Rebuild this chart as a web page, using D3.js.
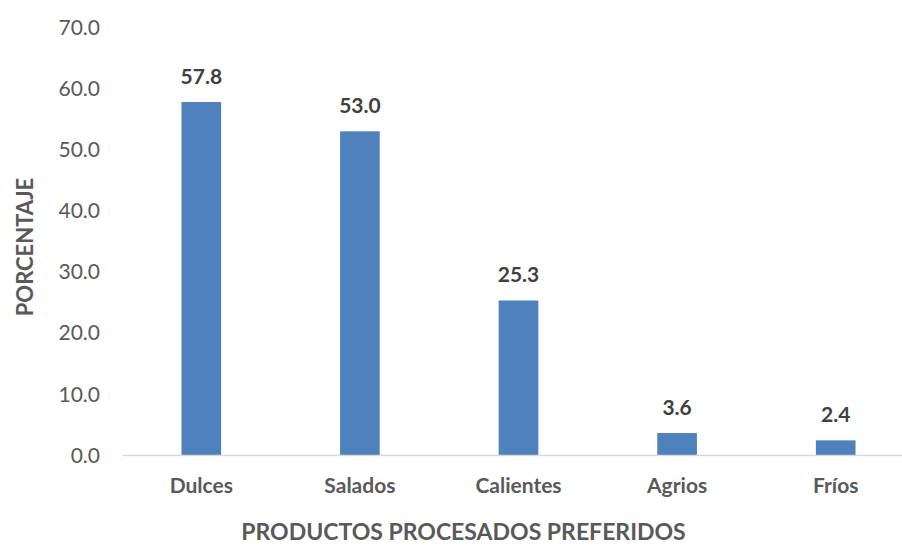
<!DOCTYPE html>
<html>
<head>
<meta charset="utf-8">
<script src="https://cdn.jsdelivr.net/npm/d3@7"></script>
<style>
  html, body { margin: 0; padding: 0; background: #fff; }
  svg { display: block; font-family: Lato, "Noto Sans", sans-serif; }
</style>
</head>
<body>
<svg id="chart" width="902" height="546"></svg>
<script>
const categories = ["Dulces", "Salados", "Calientes", "Agrios", "Fríos"];
const values = [57.8, 53.0, 25.3, 3.6, 2.4];
const yTicks = [0, 10, 20, 30, 40, 50, 60, 70];
const yTitle = "PORCENTAJE";
const xTitle = "PRODUCTOS PROCESADOS PREFERIDOS";

const svg = d3.select("#chart");

const x = d3.scaleBand()
  .domain(categories)
  .range([122, 915])
  .paddingInner(0.75)
  .paddingOuter(0.375);

const y = d3.scaleLinear().domain([0, 70]).range([455, 27.5]);

// y tick labels (no axis line, no gridlines)
const yAxis = d3.axisLeft(y).tickValues(yTicks).tickFormat(d3.format(".1f")).tickSize(0).tickPadding(0);
const gy = svg.append("g").attr("transform", "translate(100,0)").call(yAxis);
gy.select(".domain").remove();
gy.selectAll("text")
  .attr("fill", "#595959")
  .attr("font-size", 21)
  .attr("font-family", "Lato, 'Noto Sans', sans-serif")
  .attr("dy", "0.34em");

// bars
svg.append("g").selectAll("rect")
  .data(values)
  .join("rect")
  .attr("x", (d, i) => x(categories[i]))
  .attr("width", x.bandwidth())
  .attr("y", d => y(d))
  .attr("height", d => y(0) - y(d))
  .attr("fill", "#4F81BD");

// x axis line and category labels
const xAxis = d3.axisBottom(x).tickSize(0).tickPadding(0);
const gx = svg.append("g").attr("transform", "translate(0,455)").call(xAxis);
gx.select(".domain").attr("stroke", "#D9D9D9").attr("stroke-width", 1.5);
gx.selectAll("text")
  .attr("fill", "#595959")
  .attr("font-size", 21)
  .attr("font-weight", "bold")
  .attr("font-family", "Lato, 'Noto Sans', sans-serif")
  .attr("y", 38)
  .attr("dy", null);

// data labels
svg.append("g").selectAll("text")
  .data(values)
  .join("text")
  .attr("x", (d, i) => x(categories[i]) + x.bandwidth() / 2)
  .attr("y", d => y(d) - 18)
  .attr("text-anchor", "middle")
  .attr("font-size", 21)
  .attr("font-weight", "bold")
  .attr("fill", "#404040")
  .text(d => d3.format(".1f")(d));

// axis titles
svg.append("text")
  .attr("transform", "translate(33,247) rotate(-90)")
  .attr("text-anchor", "middle")
  .attr("font-size", 22)
  .attr("font-weight", "bold")
  .attr("fill", "#595959")
  .text(yTitle);

svg.append("text")
  .attr("x", 463.5)
  .attr("y", 540)
  .attr("text-anchor", "middle")
  .attr("font-size", 23)
  .attr("font-weight", "bold")
  .attr("fill", "#595959")
  .text(xTitle);
</script>
</body>
</html>
